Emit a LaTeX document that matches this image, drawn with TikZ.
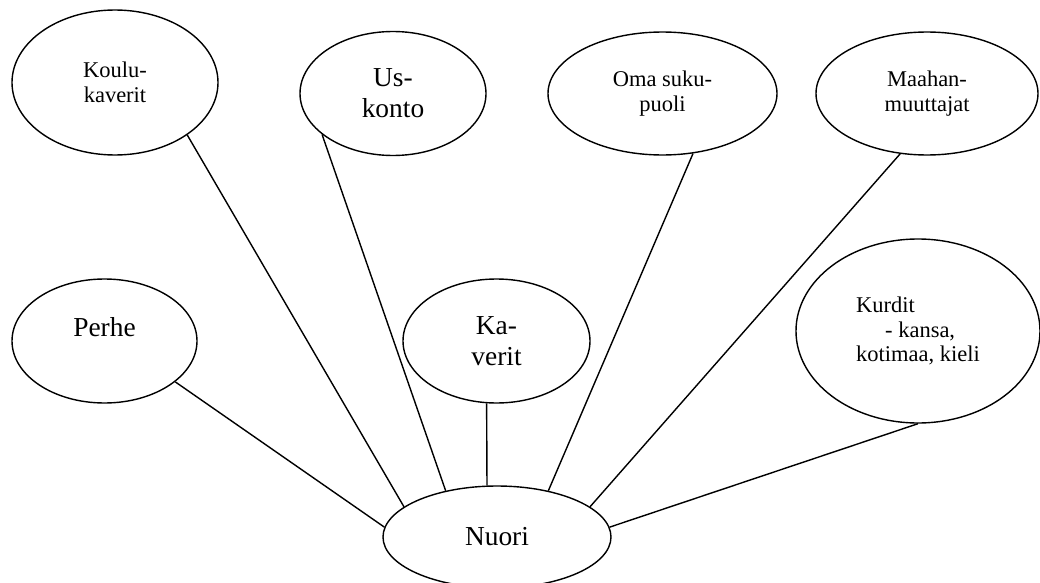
\documentclass[tikz,border=0pt]{standalone}
\usepackage{fontspec}
\setmainfont{Liberation Serif}
\usetikzlibrary{shapes.geometric}

\begin{document}
\begin{tikzpicture}[
    bubble/.style={draw, ellipse, line width=0.8pt, align=center, inner sep=1pt, font=\fontsize{12.8}{14}\selectfont},
    big/.style={font=\fontsize{15.6}{17.5}\selectfont},
    link/.style={line width=0.8pt}
]
\useasboundingbox (0,0) rectangle (20.8,-11.66);
\node[bubble, minimum width=4.12cm, minimum height=2.9cm] (koulu) at (2.30,-1.65) {Koulu-\\kaverit};
\node[bubble, big, minimum width=3.72cm, minimum height=2.48cm] (uskonto) at (7.86,-1.87) {Us-\\konto};
\node[bubble, minimum width=4.58cm, minimum height=2.46cm] (sukupuoli) at (13.25,-1.87) {Oma suku-\\puoli};
\node[bubble, minimum width=4.44cm, minimum height=2.46cm] (maahan) at (18.54,-1.87) {Maahan-\\muuttajat};
\node[bubble, big, minimum width=3.70cm, minimum height=2.48cm, text depth=0.58cm] (perhe) at (2.09,-6.82) {Perhe};
\node[bubble, big, minimum width=3.74cm, minimum height=2.48cm] (kaverit) at (9.93,-6.82) {Ka-\\verit};
\node[bubble, align=left, minimum width=4.88cm, minimum height=3.68cm] (kurdit) at (18.36,-6.62) {Kurdit\\\hspace*{0.58cm}- kansa,\\kotimaa, kieli};
\node[bubble, big, minimum width=4.56cm, minimum height=2.04cm] (nuori) at (9.94,-10.74) {Nuori};

\draw[link] (koulu.-36) -- (nuori.162);
\draw[link] (uskonto.210) -- (nuori.138);
\draw[link] (kaverit.-99) -- (nuori.101);
\draw[link] (sukupuoli.-63) -- (nuori.42);
\draw[link] (maahan.-114) -- (nuori.18);
\draw[link] (kurdit.-90) -- (nuori.5);
\draw[link] (perhe.-30) -- (nuori.175);
\end{tikzpicture}
\end{document}
